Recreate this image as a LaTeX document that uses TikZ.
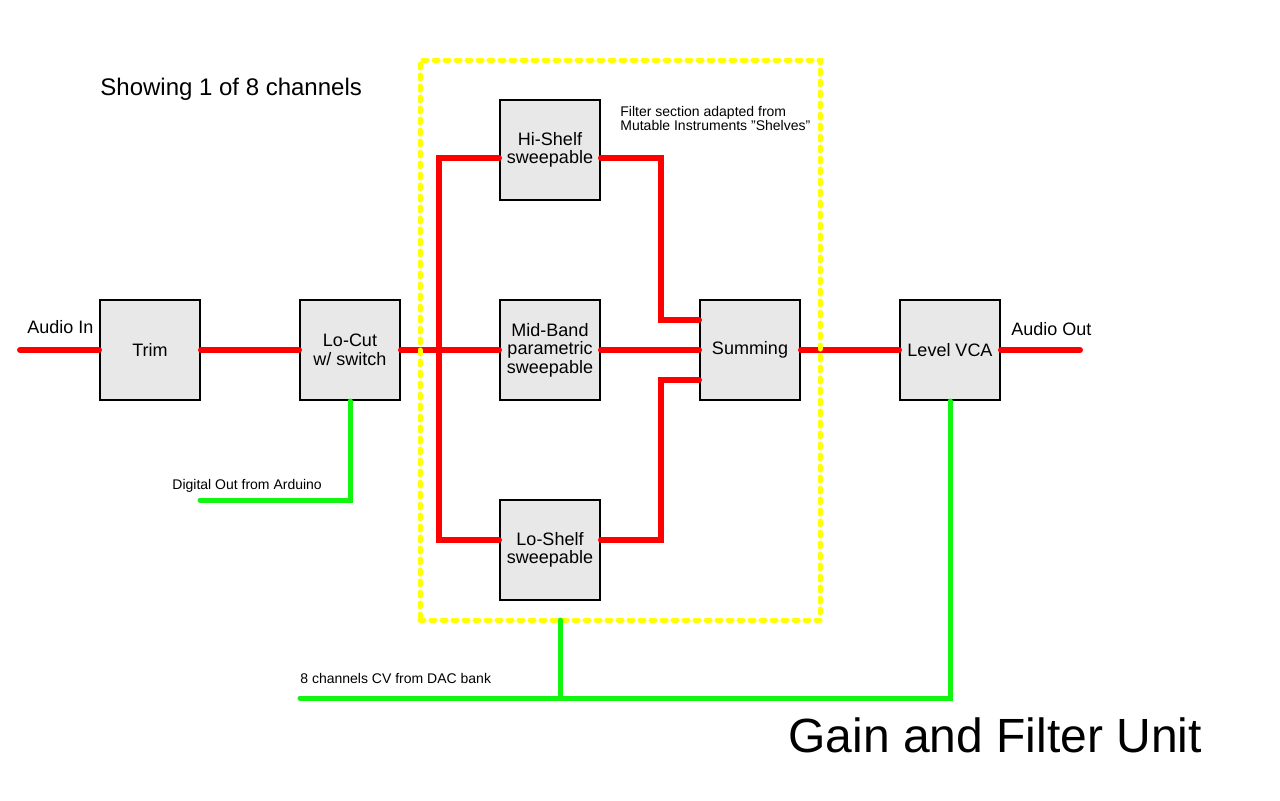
\documentclass[tikz,border=0pt]{standalone}
\usepackage{fontspec}
\setmainfont{Liberation Sans}[Ligatures=Common]
\usetikzlibrary{calc}
\definecolor{boxgray}{HTML}{E8E8E8}
\definecolor{sigred}{HTML}{FF0000}
\definecolor{cvgreen}{HTML}{11F511}
\definecolor{zoneyellow}{HTML}{FFFF00}
\tikzset{
  block/.style={draw=black, line width=1pt, fill=boxgray, minimum width=50pt,
    minimum height=50pt, inner sep=0pt, align=center,
    font=\fontsize{9}{9.3}\selectfont},
  audio/.style={draw=sigred, line width=3pt, line cap=round},
  cv/.style={draw=cvgreen, line width=2.5pt, line cap=round},
  zone/.style={draw=zoneyellow, line width=2.5pt, line cap=round,
    dash pattern=on 2pt off 3.5pt, minimum width=200pt, minimum height=280pt,
    inner sep=0pt, outer sep=0pt},
  smalltext/.style={anchor=base west, inner sep=0pt, font=\fontsize{7}{7.2}\selectfont},
  midtext/.style={anchor=base west, inner sep=0pt, font=\fontsize{9}{10}\selectfont},
}
\begin{document}
\begin{tikzpicture}[x=0.5pt, y=-0.5pt]
\useasboundingbox (0,0) rectangle (1280,800);
% blocks
\node[block] (trim) at (150,350) {Trim};
\node[block] (locut) at (350,350) {Lo-Cut\\w/ switch};
\node[block] (hi) at (550,150) {Hi-Shelf\\sweepable};
\node[block] (mid) at (550,350) {Mid-Band\\parametric\\sweepable};
\node[block] (lo) at (550,550) {Lo-Shelf\\sweepable};
\node[block] (sum) at (750,350) {Summing};
\node[block] (vca) at (950,350) {Level VCA};
% free ends
\coordinate (ain) at (20,350);
\coordinate (aout) at (1080,350);
\coordinate (arduino) at (200,500);
\coordinate (cvin) at (300,698);
% audio path
\draw[audio] (ain) -- (trim.west);
\draw[audio] (trim.east) -- (locut.west);
\draw[audio] (locut.east) -- (mid.west);
\draw[audio] ($(hi.west)+(0,8)$) -- ++(-60,0) |- ($(lo.west)+(0,-10)$);
\draw[audio] ($(hi.east)+(0,8)$) -- ++(60,0) |- ($(sum.west)+(0,-30)$);
\draw[audio] ($(lo.east)+(0,-10)$) -- ++(60,0) |- ($(sum.west)+(0,30)$);
\draw[audio] (mid.east) -- (sum.west);
\draw[audio] (sum.east) -- (vca.west);
\draw[audio] (vca.east) -- (aout);
% filter zone
\node[zone] (filterzone) at (620,340) {};
% control voltages
\coordinate (cvtap) at ($(filterzone.south)+(-60,0)$);
\draw[cv] (locut.south) |- (arduino);
\draw[cv] (cvin) -| (vca.south);
\draw[cv] (cvtap) -- (cvtap |- cvin);
% labels
\node[midtext] (lblin) at (27,333) {Audio In};
\node[midtext] (lblout) at (1011,335) {Audio Out};
\node[smalltext] (lblard) at (172,489) {Digital Out from Arduino};
\node[smalltext] (lbldac) at (300,683) {8 channels CV from DAC bank};
\node[anchor=north west, inner sep=0pt, align=left, font=\fontsize{7}{7.2}\selectfont] (note) at (620,105.5) {Filter section adapted from\\Mutable Instruments "Shelves"};
\node[anchor=base west, inner sep=0pt, font=\fontsize{12}{14}\selectfont] (showing) at (100,95) {Showing 1 of 8 channels};
\node[anchor=base west, inner sep=0pt, font=\fontsize{24}{28}\selectfont] (title) at (788,752) {Gain and Filter Unit};
\end{tikzpicture}
\end{document}
